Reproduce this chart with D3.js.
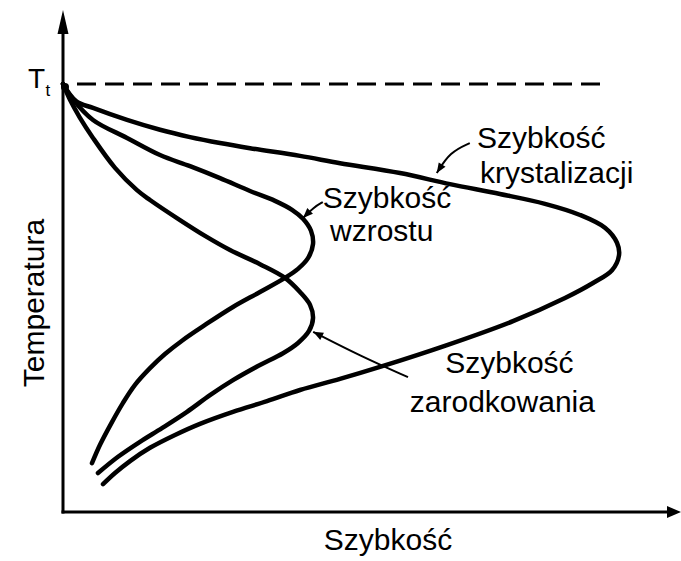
<!DOCTYPE html>
<html>
<head>
<meta charset="utf-8">
<script src="https://cdn.jsdelivr.net/npm/d3@7"></script>
<style>
  html, body { margin: 0; padding: 0; background: #fff; }
  svg { display: block; }
  text { font-family: "Liberation Sans", Arial, sans-serif; fill: #000; }
</style>
</head>
<body>
<svg id="chart" width="681" height="561"></svg>
<script>
// ---- data (speed, temperature) in arbitrary units: speed 0..100, temperature 0..100 (T_t = 100)
const crystSpeed = [0, 2.17, 5, 10.67, 16.17, 21.17, 26.17, 31.17, 39.5, 46.17, 56.17, 64.5, 72.83, 80.33, 86.17, 90.33, 92.33, 92.67, 91.5, 88.33, 83.67, 75, 64, 52.83, 46.17, 39.5, 34, 28.33, 22.83, 18.67, 14.5, 11.17, 8.67, 6.67];
const crystTemp  = [100, 96.0, 94.4, 91.6, 89.3, 87.6, 86.2, 85.0, 83.2, 81.5, 79.2, 76.6, 74.3, 72.0, 69.4, 66.4, 62.9, 60.0, 56.5, 53.5, 50.0, 44.6, 39.0, 33.9, 31.1, 28.5, 25.9, 23.4, 20.6, 18.0, 15.0, 11.9, 9.1, 6.5];

const growthSpeed = [0, 1.5, 5, 10.67, 16.17, 21.17, 26.17, 31.17, 35.33, 38.17, 40, 41.33, 41.67, 40.83, 39.17, 37, 32.83, 28.33, 23.67, 20, 17, 14.5, 12, 10, 8, 6.17, 4.83];
const growthTemp  = [100, 96.7, 91.6, 87.4, 83.4, 80.8, 78.0, 75.0, 72.7, 70.6, 68.5, 65.7, 62.6, 59.3, 56.8, 54.7, 51.4, 47.9, 43.7, 40.2, 36.9, 33.6, 29.7, 25.5, 20.6, 15.7, 11.4];

const nuclSpeed = [0, 1.17, 2.83, 5, 8.67, 12.33, 14.5, 19.5, 23.67, 27.83, 32.83, 37, 39.5, 41.17, 41.67, 41, 39.17, 36.67, 32.5, 28.33, 24.5, 20.67, 16.5, 12.83, 9.17, 5.83];
const nuclTemp  = [100, 96.3, 92.1, 87.4, 80.4, 75.2, 72.9, 68.2, 64.5, 61.2, 57.9, 54.7, 51.4, 48.4, 45.3, 42.3, 39.5, 37.1, 34.1, 30.8, 27.3, 23.4, 19.6, 16.4, 12.9, 9.1];

const meltTemp = 100;       // T_t
const meltLabel = "T";
const meltSub = "t";
const xTitle = "Szybkość";
const yTitle = "Temperatura";

// labels: lines, anchor (speed, temp) of each line's baseline start
const labelLines = [
  ["Szybkość", "krystalizacji"],
  ["Szybkość", "wzrostu"],
  ["Szybkość", "zarodkowania"]
];
const labelSpeed = [[69, 69.5], [43.3, 44.5], [63.7, 57.8]];
const labelTemp  = [[85, 76.9], [71, 63.3], [32.5, 23.4]];

// pointer arrows (from label to curve)
const pointerSpeed = [[67.8, 64.5, 62.3], [43.3, 41.8, 40], [57.5, 49.5, 41.7]];
const pointerTemp  = [[86.2, 84.1, 79.2], [72.4, 71.2, 68.7], [31.5, 36.5, 42.1]];

// ---- drawing
const svg = d3.select("#chart");
const W = 681, H = 561;
svg.append("rect").attr("width", W).attr("height", H).attr("fill", "#fff");

const x = d3.scaleLinear().domain([0, 100]).range([63, 663]);
const y = d3.scaleLinear().domain([0, 100]).range([512, 84]);

// axes lines
const axisY0 = y(0), axisX0 = x(0);
svg.append("line").attr("x1", axisX0).attr("y1", axisY0 + 1.5).attr("x2", axisX0).attr("y2", 30)
  .attr("stroke", "#000").attr("stroke-width", 3);
svg.append("line").attr("x1", axisX0 - 1.5).attr("y1", axisY0).attr("x2", 670).attr("y2", axisY0)
  .attr("stroke", "#000").attr("stroke-width", 3);
// arrowheads
svg.append("path").attr("d", `M${axisX0},10 L${axisX0 - 5.5},34 L${axisX0 + 5.5},34 Z`).attr("fill", "#000");
svg.append("path").attr("d", `M681,${axisY0} L667,${axisY0 - 6} L667,${axisY0 + 6} Z`).attr("fill", "#000");

// dashed T_t line
svg.append("line").attr("x1", x(0) + 14).attr("x2", x(89.5)).attr("y1", y(meltTemp)).attr("y2", y(meltTemp))
  .attr("stroke", "#000").attr("stroke-width", 3).attr("stroke-dasharray", "19,9");

// curves
const line = d3.line().x(d => x(d[0])).y(d => y(d[1])).curve(d3.curveCatmullRom.alpha(0.5));
const series = [
  d3.zip(crystSpeed, crystTemp),
  d3.zip(growthSpeed, growthTemp),
  d3.zip(nuclSpeed, nuclTemp)
];
svg.selectAll("path.curve").data(series).enter().append("path")
  .attr("class", "curve")
  .attr("d", line)
  .attr("fill", "none").attr("stroke", "#000").attr("stroke-width", 4.5)
  .attr("stroke-linecap", "round").attr("stroke-linejoin", "round");

// blob at origin of curves
svg.append("circle").attr("cx", x(0) + 2).attr("cy", y(meltTemp) + 3).attr("r", 4).attr("fill", "#000");

// pointers
const pline = d3.line().x(d => x(d[0])).y(d => y(d[1])).curve(d3.curveBasis);
pointerSpeed.forEach((ps, i) => {
  const pts = d3.zip(ps, pointerTemp[i]);
  svg.append("path").attr("d", pline(pts)).attr("fill", "none").attr("stroke", "#000").attr("stroke-width", 2);
  const a = pts[pts.length - 2], b = pts[pts.length - 1];
  const ax = x(a[0]), ay = y(a[1]), bx = x(b[0]), by = y(b[1]);
  const ang = Math.atan2(by - ay, bx - ax);
  const L = 10, Wd = 4;
  const p1 = [bx - L * Math.cos(ang) + Wd * Math.sin(ang), by - L * Math.sin(ang) - Wd * Math.cos(ang)];
  const p2 = [bx - L * Math.cos(ang) - Wd * Math.sin(ang), by - L * Math.sin(ang) + Wd * Math.cos(ang)];
  svg.append("path").attr("d", `M${bx},${by} L${p1[0]},${p1[1]} L${p2[0]},${p2[1]} Z`).attr("fill", "#000");
});

// labels
labelLines.forEach((lines, i) => {
  lines.forEach((t, j) => {
    svg.append("text").attr("x", x(labelSpeed[i][j])).attr("y", y(labelTemp[i][j]))
      .attr("font-size", 30).text(t);
  });
});

// T_t label
svg.append("text").attr("x", 28).attr("y", y(meltTemp) + 4).attr("font-size", 28).text(meltLabel);
svg.append("text").attr("x", 45.5).attr("y", y(meltTemp) + 12).attr("font-size", 17).text(meltSub);

// axis titles
svg.append("text").attr("x", 388).attr("y", 550).attr("text-anchor", "middle").attr("font-size", 30).text(xTitle);
svg.append("text").attr("transform", `translate(44,303) rotate(-90)`).attr("text-anchor", "middle")
  .attr("font-size", 30).text(yTitle);
</script>
</body>
</html>
